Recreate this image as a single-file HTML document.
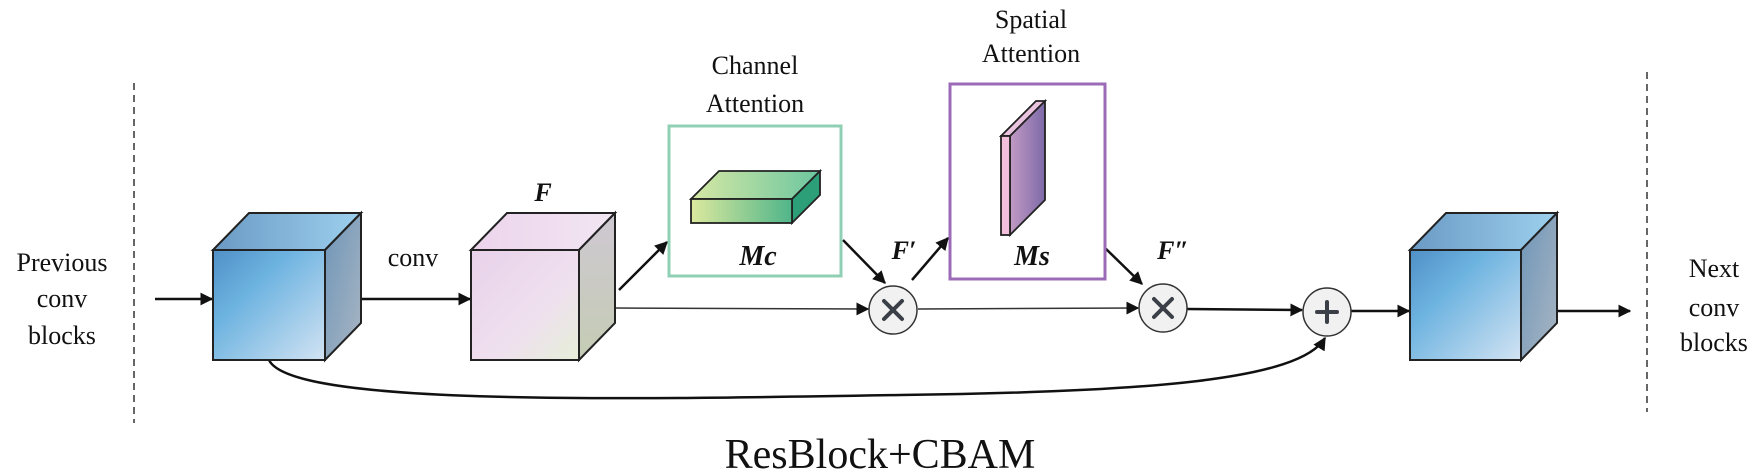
<!DOCTYPE html>
<html><head><meta charset="utf-8"><style>
html,body{margin:0;padding:0;background:#fff;width:1757px;height:473px;overflow:hidden}
svg{display:block}
text{font-family:"Liberation Serif",serif;fill:#111}
</style></head><body>
<svg width="1757" height="473" viewBox="0 0 1757 473" xmlns="http://www.w3.org/2000/svg">
<defs>
<marker id="ah" viewBox="0 0 10 10" refX="9" refY="5" markerWidth="13" markerHeight="13" orient="auto-start-reverse" markerUnits="userSpaceOnUse"><path d="M0,0 L10,5 L0,10 z" fill="#111"/></marker>
<linearGradient id="bf" x1="0" y1="0" x2="1" y2="1"><stop offset="0" stop-color="#4f8fc6"/><stop offset="0.35" stop-color="#6db3e0"/><stop offset="1" stop-color="#d2e3f3"/></linearGradient>
<linearGradient id="bt" x1="0" y1="0" x2="1" y2="0"><stop offset="0" stop-color="#6a9ac4"/><stop offset="1" stop-color="#9dd0ee"/></linearGradient>
<linearGradient id="bs" x1="0" y1="0" x2="1" y2="1"><stop offset="0" stop-color="#6e95b8"/><stop offset="1" stop-color="#a9b6c3"/></linearGradient>
<linearGradient id="pf" x1="0" y1="0" x2="1" y2="1"><stop offset="0" stop-color="#e8d2ea"/><stop offset="0.6" stop-color="#efe0ef"/><stop offset="1" stop-color="#e6efd8"/></linearGradient>
<linearGradient id="pt" x1="0" y1="0" x2="1" y2="0"><stop offset="0" stop-color="#ecd4ec"/><stop offset="1" stop-color="#f2e6f2"/></linearGradient>
<linearGradient id="ps" x1="0" y1="0" x2="0" y2="1"><stop offset="0" stop-color="#cfc8d2"/><stop offset="1" stop-color="#c4ccb4"/></linearGradient>
<linearGradient id="gf" x1="0" y1="0" x2="1" y2="0"><stop offset="0" stop-color="#dce99e"/><stop offset="1" stop-color="#4fb58a"/></linearGradient>
<linearGradient id="gt" x1="0" y1="0" x2="1" y2="0"><stop offset="0" stop-color="#d6e8a4"/><stop offset="1" stop-color="#6cc6a0"/></linearGradient>
<linearGradient id="mf" x1="0" y1="0" x2="1" y2="0"><stop offset="0" stop-color="#c29ac4"/><stop offset="1" stop-color="#7d6aa8"/></linearGradient>
</defs>

<line x1="134" y1="83" x2="134" y2="423" stroke="#333" stroke-width="1.5" stroke-dasharray="7,5"/>
<line x1="1647" y1="72" x2="1647" y2="412" stroke="#333" stroke-width="1.5" stroke-dasharray="7,5"/>

<g font-size="26" text-anchor="middle">
<text x="62" y="271">Previous</text><text x="62" y="307">conv</text><text x="62" y="344">blocks</text>
<text x="1714" y="277">Next</text><text x="1714" y="316">conv</text><text x="1714" y="351">blocks</text>
</g>

<g stroke="#111" stroke-width="2.5" fill="none">
<line x1="155" y1="299" x2="212" y2="299" marker-end="url(#ah)"/>
<line x1="361" y1="299" x2="470" y2="299" marker-end="url(#ah)"/>
<line x1="619" y1="290" x2="667" y2="242" marker-end="url(#ah)"/>
<line x1="843" y1="240" x2="885" y2="283" marker-end="url(#ah)"/>
<line x1="912" y1="280" x2="948" y2="238" marker-end="url(#ah)"/>
<line x1="1104" y1="247" x2="1142" y2="284" marker-end="url(#ah)"/>
<line x1="1187" y1="309" x2="1302" y2="310" marker-end="url(#ah)"/>
<line x1="1351" y1="311" x2="1409" y2="311" marker-end="url(#ah)"/>
<line x1="1557" y1="311" x2="1630" y2="311" marker-end="url(#ah)"/>
<path d="M269,360 C290,405 600,400 900,395 C1150,392 1300,380 1325,338" marker-end="url(#ah)"/>
</g>
<g stroke="#333" stroke-width="1.5" fill="none">
<line x1="616" y1="308" x2="868" y2="309" marker-end="url(#ah)"/>
<line x1="918" y1="309" x2="1138" y2="308" marker-end="url(#ah)"/>
</g>

<g stroke="#222" stroke-width="2">
<polygon points="213,250 249,213 361,213 325,250" fill="url(#bt)"/>
<polygon points="325,250 361,213 361,323 325,360" fill="url(#bs)"/>
<rect x="213" y="250" width="112" height="110" fill="url(#bf)"/>
</g>
<g stroke="#222" stroke-width="2">
<polygon points="471,250 507,213 615,213 579,250" fill="url(#pt)"/>
<polygon points="579,250 615,213 615,323 579,360" fill="url(#ps)"/>
<rect x="471" y="250" width="108" height="110" fill="url(#pf)"/>
</g>
<g stroke="#222" stroke-width="2">
<polygon points="1410,250 1446,213 1557,213 1521,250" fill="url(#bt)"/>
<polygon points="1521,250 1557,213 1557,323 1521,360" fill="url(#bs)"/>
<rect x="1410" y="250" width="111" height="110" fill="url(#bf)"/>
</g>

<text x="413" y="266" font-size="26" text-anchor="middle">conv</text>
<text x="543" y="201" font-size="26" font-weight="bold" font-style="italic" text-anchor="middle">F</text>

<text x="755" y="74" font-size="26" text-anchor="middle">Channel</text>
<text x="755" y="112" font-size="26" text-anchor="middle">Attention</text>
<rect x="669" y="126" width="172" height="150" fill="#fff" stroke="#8fd0b4" stroke-width="3"/>
<g stroke="#222" stroke-width="1.8">
<polygon points="691,199 719,171 820,171 792,199" fill="url(#gt)"/>
<polygon points="792,199 820,171 820,195 792,223" fill="#2c9e78"/>
<rect x="691" y="199" width="101" height="24" fill="url(#gf)"/>
</g>
<text x="758" y="265" font-size="28" font-weight="bold" font-style="italic" text-anchor="middle">Mc</text>

<text x="1031" y="28" font-size="26" text-anchor="middle">Spatial</text>
<text x="1031" y="62" font-size="26" text-anchor="middle">Attention</text>
<rect x="950" y="84" width="155" height="195" fill="#fff" stroke="#9b6bb8" stroke-width="3"/>
<g stroke="#222" stroke-width="1.8">
<polygon points="1001,136 1036,101 1045,101 1010,136" fill="#e9c3e0"/>
<polygon points="1010,136 1045,101 1045,200 1010,235" fill="url(#mf)"/>
<rect x="1001" y="136" width="9" height="99" fill="#f2bfdc"/>
</g>
<text x="1032" y="265" font-size="28" font-weight="bold" font-style="italic" text-anchor="middle">Ms</text>

<text x="904" y="259" font-size="26" font-weight="bold" font-style="italic" text-anchor="middle">F′</text>
<text x="1173" y="259" font-size="26" font-weight="bold" font-style="italic" text-anchor="middle">F″</text>

<g stroke="#333" stroke-width="1.5" fill="#f1f1f1">
<circle cx="893" cy="310" r="24"/>
<circle cx="1163" cy="308" r="24"/>
<circle cx="1327" cy="312" r="24"/>
</g>
<g stroke="#3a3f48" stroke-width="4" stroke-linecap="round">
<line x1="884" y1="301" x2="902" y2="319"/><line x1="902" y1="301" x2="884" y2="319"/>
<line x1="1154" y1="299" x2="1172" y2="317"/><line x1="1172" y1="299" x2="1154" y2="317"/>
<line x1="1317" y1="312" x2="1337" y2="312"/><line x1="1327" y1="302" x2="1327" y2="322"/>
</g>

<text x="880" y="468" font-size="42" text-anchor="middle">ResBlock+CBAM</text>
</svg>
</body></html>
